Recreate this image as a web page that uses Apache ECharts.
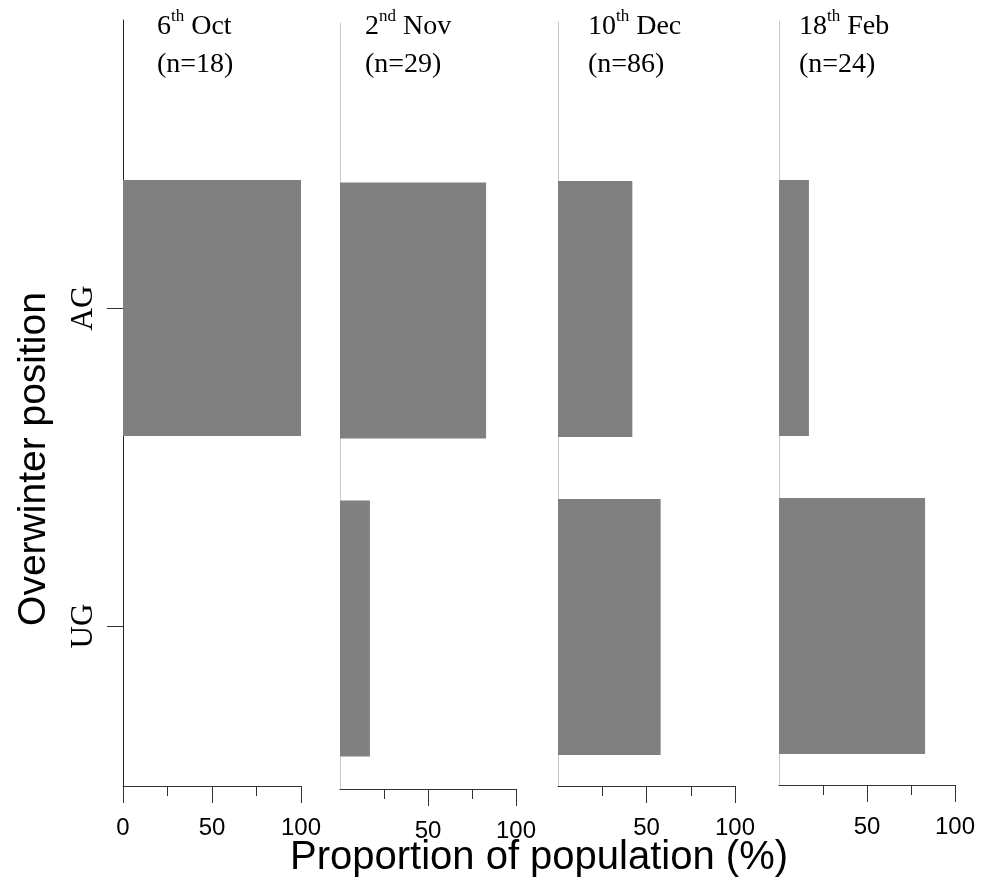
<!DOCTYPE html>
<html><head><meta charset="utf-8">
<script src="https://cdn.jsdelivr.net/npm/echarts@6/dist/echarts.min.js"></script>
<style>html,body{margin:0;padding:0;background:#fff}#c{width:990px;height:884px}</style>
</head><body><div id="c"></div>
<script>
// ---- data ----
const categories = ['UG', 'AG']; // bottom to top
const dayNumbers = ['6', '2', '10', '18'];
const daySuffixes = ['th', 'nd', 'th', 'th'];
const months = ['Oct', 'Nov', 'Dec', 'Feb'];
const sampleSizes = [18, 29, 86, 24];
const agValues = [100, 83, 42, 17];
const ugValues = [0, 17, 58, 83];
const majorTicksFirst = [0, 50, 100];
const majorTicksOther = [50, 100];
const minorTicks = [25, 75];
const xAxisTitle = 'Proportion of population (%)';
const yAxisTitle = 'Overwinter position';

// ---- layout ----
const panelLeft = [123, 340, 558, 779];
const panelWidth = [178, 176, 177, 176];
const panelTop = [20, 23, 22, 21];
const panelBottom = [786, 789, 786, 785];
const barTop = [149, 151.5, 150, 149];
const barAreaHeight = 636;
const titleLeft = [157, 365, 588, 799];

const serif = "'Liberation Serif', 'Times New Roman', serif";
const sans = "'Liberation Sans', Arial, sans-serif";

const grid = [], xAxis = [], yAxis = [], series = [], graphic = [];
for (let i = 0; i < 4; i++) {
  const majors = i === 0 ? majorTicksFirst : majorTicksOther;
  grid.push({ left: panelLeft[i], width: panelWidth[i], top: panelTop[i], height: panelBottom[i] - panelTop[i] });
  grid.push({ left: panelLeft[i], width: panelWidth[i], top: barTop[i], height: barAreaHeight });
  xAxis.push({
    gridIndex: 2 * i, type: 'value', min: 0, max: 100, interval: 50,
    axisLine: { show: true, lineStyle: { color: '#333', width: 1 } },
    axisTick: { show: true, customValues: majors, length: 17, lineStyle: { color: '#333', width: 1 } },
    axisLabel: { show: true, customValues: majors, fontSize: 24, fontFamily: sans, color: '#000', margin: 30 },
    splitLine: { show: false }
  });
  xAxis.push({
    gridIndex: 2 * i + 1, type: 'value', min: 0, max: 100, interval: 50,
    offset: panelBottom[i] - (barTop[i] + barAreaHeight),
    axisLine: { show: false },
    axisTick: { show: true, customValues: minorTicks, length: 10, lineStyle: { color: '#333', width: 1 } },
    axisLabel: { show: false },
    splitLine: { show: false }
  });
  yAxis.push({
    gridIndex: 2 * i, type: 'value', min: 0, max: 1,
    axisLine: { show: true, lineStyle: { color: i === 0 ? '#222' : '#c8c8c8', width: 1 } },
    axisTick: { show: false }, axisLabel: { show: false }, splitLine: { show: false }
  });
  yAxis.push({
    gridIndex: 2 * i + 1, type: 'category', data: categories,
    axisLine: { show: false },
    axisTick: { show: i === 0, alignWithLabel: true, length: 16, lineStyle: { color: '#333', width: 1 } },
    axisLabel: { show: i === 0, rotate: 90, fontSize: 31, fontFamily: serif, color: '#000', margin: 24 },
    splitLine: { show: false }
  });
  series.push({
    type: 'bar', xAxisIndex: 2 * i + 1, yAxisIndex: 2 * i + 1,
    data: [ugValues[i], agValues[i]], barWidth: 256,
    itemStyle: { color: '#808080' }, silent: true
  });
  graphic.push({
    type: 'text', left: titleLeft[i], top: 8,
    style: {
      text: '{b|' + dayNumbers[i] + '}{s|' + daySuffixes[i] + '}{b| ' + months[i] + '}\n{b|(n=' + sampleSizes[i] + ')}',
      rich: {
        b: { fontSize: 28, fontFamily: serif, fill: '#000', lineHeight: 38, verticalAlign: 'middle' },
        s: { fontSize: 17, fontFamily: serif, fill: '#000', lineHeight: 24, verticalAlign: 'top' }
      }
    }
  });
}
graphic.push({
  type: 'text', x: 539, y: 858,
  style: { text: xAxisTitle, fontSize: 40, fontFamily: sans, fill: '#000', align: 'center', verticalAlign: 'middle' }
});
graphic.push({
  type: 'text', x: 34, y: 459, rotation: Math.PI / 2,
  style: { text: yAxisTitle, fontSize: 39, fontFamily: sans, fill: '#000', align: 'center', verticalAlign: 'middle' }
});

const chart = echarts.init(document.getElementById('c'), null, { renderer: 'canvas' });
chart.setOption({ animation: false, backgroundColor: '#fff', grid, xAxis, yAxis, series, graphic });
</script>
</body></html>
